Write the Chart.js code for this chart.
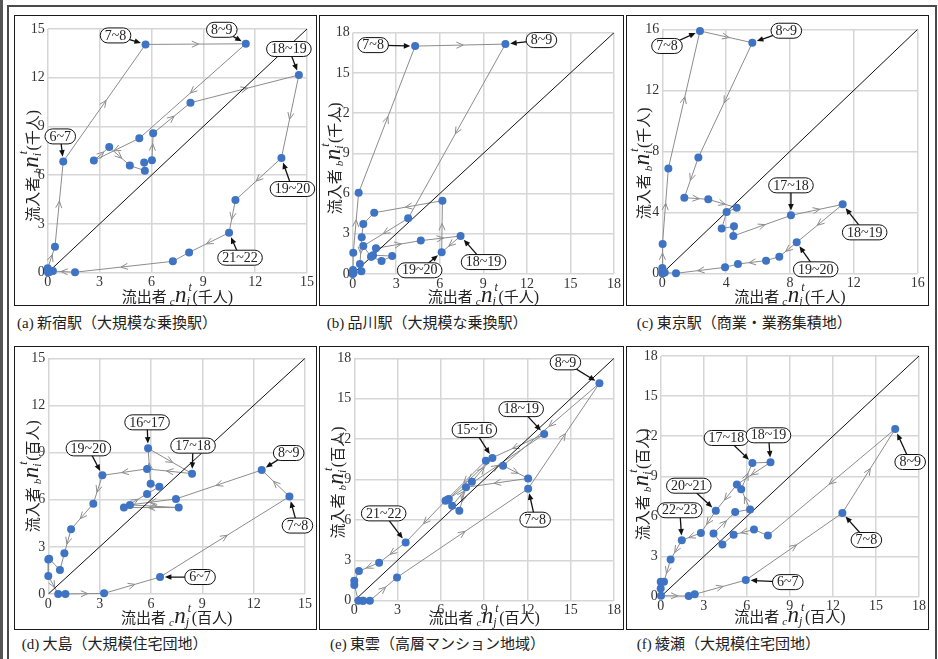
<!DOCTYPE html>
<html lang="ja">
  <head>
    <meta charset="UTF-8" />
    <meta name="viewport" content="width=device-width, initial-scale=1.0" />
    <title>流入者・流出者の時間帯別推移</title>
    <script src="https://cdn.jsdelivr.net/npm/chart.js"></script>
    <style>
      body {
        margin: 0;
        padding: 0;
        background: #fff;
        font-family: "Noto Sans CJK JP", sans-serif;
      }
      #page {
        position: relative;
        width: 938px;
        height: 659px;
        overflow: hidden;
      }
      .edge {
        position: absolute;
        left: 0;
        top: 0;
        width: 3px;
        height: 659px;
        background: #555;
      }
      .outer {
        position: absolute;
        left: 7px;
        top: 5px;
        width: 930px;
        height: 700px;
        border: 2px solid #4a4a4a;
        box-sizing: border-box;
      }
      .frame {
        position: absolute;
        border: 1.4px solid #1a1a1a;
        box-sizing: border-box;
      }
      canvas {
        position: absolute;
      }
      .caption {
        position: absolute;
        font-size: 15px;
        line-height: 18px;
        color: #222;
        white-space: nowrap;
      }
      .caption .tag {
        font-family: "Liberation Serif", serif;
      }
    </style>
  </head>
  <body>
    <div id="page">
      <div class="edge"></div>
      <div class="outer"></div>
    </div>

    <script>
      // hour slots (0~1 ... 23~24)
      const hours = ["0~1", "1~2", "2~3", "3~4", "4~5", "5~6", "6~7", "7~8", "8~9", "9~10", "10~11", "11~12",
        "12~13", "13~14", "14~15", "15~16", "16~17", "17~18", "18~19", "19~20", "20~21", "21~22", "22~23", "23~24"];

      const stationNames = ["新宿駅", "品川駅", "東京駅", "大島", "東雲", "綾瀬"];
      const areaKinds = ["大規模な乗換駅", "大規模な乗換駅", "商業・業務集積地", "大規模住宅団地", "高層マンション地域", "大規模住宅団地"];
      const units = ["千人", "千人", "千人", "百人", "百人", "百人"];
      const axisMax = [15, 18, 16, 15, 18, 18];
      const tickStep = [3, 3, 4, 3, 3, 3];

      // outflow (x) / inflow (y) per hour
      const shinjukuOut = [1.58, 0.3, 0.1, 0.02, 0, 0.42, 0.9, 5.66, 11.46, 5.3, 2.67, 3.56, 4.75, 5.62, 5.58, 6.03, 6.1, 8.26, 14.53, 13.52, 10.86, 10.49, 8.18, 7.24];
      const shinjukuIn = [0.03, 0.1, 0.05, 0.02, 0.27, 1.6, 6.85, 14.05, 14.09, 8.27, 6.9, 7.73, 6.6, 6.28, 6.79, 6.92, 8.58, 10.46, 12.17, 7.06, 4.47, 2.46, 1.25, 0.7];

      const shinagawaOut = [0.5, 0.6, 0.05, 0, 0.02, 0.04, 0.41, 4.3, 10.52, 3.82, 0.73, 1.26, 1.99, 2.72, 1.4, 1.3, 1.6, 4.69, 7.43, 6.13, 6.18, 1.48, 0.73, 0.62];
      const shinagawaIn = [0.75, 0.2, 0.08, 0, 0.3, 1.59, 6.06, 17.0, 17.15, 4.15, 2.09, 1.29, 0.97, 1.34, 1.4, 1.3, 1.92, 2.49, 2.83, 1.62, 5.47, 4.57, 3.73, 2.74];

      const tokyoOut = [0.86, 0.15, 0.05, 0, 0, 0.02, 0.38, 2.36, 5.64, 2.26, 1.38, 2.88, 4.66, 4.03, 3.72, 4.49, 4.45, 8.06, 11.3, 8.42, 7.33, 6.5, 4.74, 3.93];
      const tokyoIn = [0, 0.05, 0.02, 0, 0.35, 1.92, 6.88, 15.89, 15.12, 7.6, 4.96, 4.85, 4.3, 4.02, 2.93, 3.08, 2.45, 3.8, 4.52, 2.03, 1.09, 0.83, 0.61, 0.39];

      const oshimaOut = [0.05, 0, 0, 0.58, 1.0, 3.26, 6.53, 14.09, 12.47, 7.46, 4.77, 7.62, 4.42, 5.77, 6.49, 5.98, 5.83, 8.4, 5.77, 3.16, 2.63, 1.33, 0.94, 0.68];
      const oshimaIn = [2.25, 2.2, 1.15, 0, 0, 0.04, 1.08, 6.2, 7.89, 6.05, 5.67, 5.5, 5.5, 6.37, 6.83, 7.02, 9.27, 7.66, 7.96, 7.55, 5.75, 4.12, 2.59, 1.53];

      const shinonomeOut = [0, 0, 0.28, 0.58, 0.62, 1.08, 2.96, 12.05, 16.99, 10.31, 12.05, 7.74, 7.28, 6.78, 8.15, 9.57, 6.55, 6.45, 13.16, 9.12, 6.32, 3.56, 1.72, 0.32];
      const shinonomeIn = [1.48, 1.17, 0, 0, 0, 0, 1.73, 8.32, 16.14, 10.03, 9.08, 8.42, 6.68, 7.05, 8.84, 10.6, 7.55, 7.5, 12.37, 10.4, 7.42, 4.33, 2.82, 2.2];

      const ayaseOut = [0.23, 0, 0, 0.02, 1.95, 2.37, 5.93, 12.66, 16.34, 7.47, 6.5, 5.08, 4.3, 3.68, 5.19, 6.23, 5.61, 6.39, 7.65, 5.31, 3.84, 2.8, 1.47, 0.69];
      const ayaseIn = [1.12, 1.12, 0.62, 0.08, 0.05, 0.18, 1.24, 6.26, 12.54, 4.57, 5.02, 4.64, 3.9, 4.72, 6.33, 6.53, 8.04, 10.0, 10.05, 8.39, 6.43, 4.77, 4.22, 2.78];

      // hours that carry a callout label
      const labelledA = ["6~7", "7~8", "8~9", "18~19", "19~20", "21~22"];
      const labelledB = ["7~8", "8~9", "18~19", "19~20"];
      const labelledC = ["7~8", "8~9", "17~18", "18~19", "19~20"];
      const labelledD = ["6~7", "7~8", "8~9", "16~17", "17~18", "19~20"];
      const labelledE = ["7~8", "8~9", "15~16", "18~19", "21~22"];
      const labelledF = ["6~7", "7~8", "8~9", "17~18", "18~19", "20~21", "22~23"];

      // ---- layout (pixels) ----
      const CJK = '"Noto Sans CJK JP", sans-serif';
      const SERIF = '"Liberation Serif", "Times New Roman", serif';
      const LINE_GRAY = "#8c8c8c";
      const DOT_BLUE = "#3f73c4";

      const frames = [
        [14, 15, 303, 291], [318.5, 15, 305.5, 291], [625.5, 15, 303.5, 291],
        [14, 346, 303, 284], [318.5, 346, 305.5, 284], [625.5, 346, 303.5, 284],
      ];
      const plotBoxes = [
        [47.7, 29, 307.3, 272.7], [352.7, 32.7, 615, 274], [662.3, 29.3, 917.7, 273.3],
        [48.3, 358.3, 305, 594], [354.3, 358.3, 615.7, 600.7], [660.7, 355, 921.7, 596.7],
      ];
      const captionPos = [[17, 322], [326.7, 322], [636.7, 322], [21.7, 643], [330, 643], [636.7, 643]];
      const xTitleY = [296.5, 296.5, 296.5, 618, 617.5, 617];
      const yTitleX = [33, 335, 643.5, 33, 338, 643];
      const yTitleShift = [15, 5, 12, 0, 3, 8];

      const calloutOffsets = [
        [[-3, -25], [-30, -9], [-24, -14], [-10, -26], [11, 31], [11, 25]],
        [[-42, -1], [36, -4], [23, 26], [-22, 18]],
        [[-33, 15], [34, -12], [0, -30], [22, 28], [19, 27]],
        [[40, 0], [8, 29], [27, -17], [-1, -26], [1, -28], [-14, -27]],
        [[7, 31], [-34, -21], [-18, -28], [-23, -25], [-22, -29]],
        [[42, 2], [24, 27], [15, 33], [-26, -25], [-2, -27], [-27, -25], [-2, -30]],
      ];

      const panels = [
        { tag: "(a)", out: shinjukuOut, inn: shinjukuIn, labelled: labelledA },
        { tag: "(b)", out: shinagawaOut, inn: shinagawaIn, labelled: labelledB },
        { tag: "(c)", out: tokyoOut, inn: tokyoIn, labelled: labelledC },
        { tag: "(d)", out: oshimaOut, inn: oshimaIn, labelled: labelledD },
        { tag: "(e)", out: shinonomeOut, inn: shinonomeIn, labelled: labelledE },
        { tag: "(f)", out: ayaseOut, inn: ayaseIn, labelled: labelledF },
      ];

      // ---- rich text for axis titles ----
      function partWidth(ctx, p) {
        ctx.font = p.f;
        const w = p.sup
          ? Math.max(ctx.measureText(p.sup).width + 1.5, ctx.measureText(p.sub).width)
          : ctx.measureText(p.t).width;
        return w + (p.pad || 0);
      }

      function drawRich(ctx, parts, cx, cy, rotated) {
        ctx.save();
        ctx.translate(cx, cy);
        if (rotated) ctx.rotate(-Math.PI / 2);
        let total = 0;
        parts.forEach((p) => (total += partWidth(ctx, p)));
        let x = -total / 2;
        ctx.textAlign = "left";
        ctx.textBaseline = "alphabetic";
        ctx.fillStyle = "#222";
        parts.forEach((p) => {
          ctx.font = p.f;
          if (p.sup) {
            ctx.fillText(p.sup, x + 2, 5 + p.supDy);
            ctx.fillText(p.sub, x, 5 + p.subDy);
          } else {
            ctx.fillText(p.t, x, 5 + (p.dy || 0));
          }
          x += partWidth(ctx, p);
        });
        ctx.restore();
      }

      function titleParts(word, pre, sub, unit) {
        return [
          { t: word, f: "15px " + CJK, pad: 3 },
          { t: pre, f: "italic 11px " + SERIF, dy: 3, pad: 0.5 },
          { t: "n", f: "italic 23px " + SERIF },
          { sup: "t", sub: sub, f: "italic 12px " + SERIF, supDy: -11, subDy: 3, pad: 1 },
          { t: "(", f: "16px " + SERIF },
          { t: unit, f: "15px " + CJK },
          { t: ")", f: "16px " + SERIF },
        ];
      }

      function drawFlowArrows(chart) {
        const pts = chart.getDatasetMeta(0).data;
        const ctx = chart.ctx;
        ctx.save();
        ctx.strokeStyle = LINE_GRAY;
        ctx.lineWidth = 1;
        for (let i = 0; i < pts.length - 1; i++) {
          const a = pts[i], b = pts[i + 1];
          const dx = b.x - a.x, dy = b.y - a.y;
          if (Math.hypot(dx, dy) < 20) continue;
          const ang = Math.atan2(dy, dx);
          const tx = (a.x + b.x) / 2 + 3 * Math.cos(ang);
          const ty = (a.y + b.y) / 2 + 3 * Math.sin(ang);
          ctx.beginPath();
          ctx.moveTo(tx - 7.5 * Math.cos(ang - 0.42), ty - 7.5 * Math.sin(ang - 0.42));
          ctx.lineTo(tx, ty);
          ctx.lineTo(tx - 7.5 * Math.cos(ang + 0.42), ty - 7.5 * Math.sin(ang + 0.42));
          ctx.stroke();
        }
        ctx.restore();
      }

      function drawCallouts(chart, panel, offsets) {
        const dots = chart.getDatasetMeta(2).data;
        const ctx = chart.ctx;
        ctx.save();
        ctx.font = "14px " + SERIF;
        panel.labelled.forEach((h, k) => {
          const p = dots[hours.indexOf(h)];
          const bx = p.x + offsets[k][0];
          const by = p.y + offsets[k][1];
          const w = ctx.measureText(h).width + 9;
          const bh = 15;
          // leader arrow
          const dx = p.x - bx, dy = p.y - by;
          const len = Math.hypot(dx, dy);
          const ux = dx / len, uy = dy / len;
          const ex = p.x - ux * 4.8, ey = p.y - uy * 4.8;
          ctx.strokeStyle = "#111";
          ctx.fillStyle = "#111";
          ctx.lineWidth = 1.3;
          ctx.beginPath();
          ctx.moveTo(bx, by);
          ctx.lineTo(ex - ux * 4, ey - uy * 4);
          ctx.stroke();
          ctx.beginPath();
          ctx.moveTo(ex, ey);
          ctx.lineTo(ex - ux * 6.5 - uy * 2.8, ey - uy * 6.5 + ux * 2.8);
          ctx.lineTo(ex - ux * 6.5 + uy * 2.8, ey - uy * 6.5 - ux * 2.8);
          ctx.closePath();
          ctx.fill();
          // capsule box
          const r = bh / 2;
          ctx.beginPath();
          ctx.moveTo(bx - w / 2 + r, by - r);
          ctx.lineTo(bx + w / 2 - r, by - r);
          ctx.arc(bx + w / 2 - r, by, r, -Math.PI / 2, Math.PI / 2);
          ctx.lineTo(bx - w / 2 + r, by + r);
          ctx.arc(bx - w / 2 + r, by, r, Math.PI / 2, Math.PI * 1.5);
          ctx.closePath();
          ctx.fillStyle = "#fff";
          ctx.fill();
          ctx.lineWidth = 1;
          ctx.stroke();
          ctx.fillStyle = "#222";
          ctx.textAlign = "center";
          ctx.textBaseline = "middle";
          ctx.fillText(h, bx, by + 0.5);
        });
        ctx.restore();
      }

      const page = document.getElementById("page");

      panels.forEach((panel, i) => {
        const [fx, fy, fw, fh] = frames[i];
        const frame = document.createElement("div");
        frame.className = "frame";
        frame.style.left = fx + "px";
        frame.style.top = fy + "px";
        frame.style.width = fw + "px";
        frame.style.height = fh + "px";
        page.appendChild(frame);

        const cx = Math.floor(fx), cy = fy;
        const cw = Math.ceil(fx + fw) - cx, ch = fh;
        const canvas = document.createElement("canvas");
        canvas.width = cw;
        canvas.height = ch;
        canvas.style.left = cx + "px";
        canvas.style.top = cy + "px";
        page.appendChild(canvas);

        const cap = document.createElement("div");
        cap.className = "caption";
        cap.style.left = captionPos[i][0] + "px";
        cap.style.top = captionPos[i][1] - 9 + "px";
        cap.innerHTML = '<span class="tag">' + panel.tag + "</span> " + stationNames[i] + "（" + areaKinds[i] + "）";
        page.appendChild(cap);

        const [pl, pt, pr, pb] = plotBoxes[i];
        const padLeft = pl - cx, padTop = pt - cy;
        const padRight = cx + cw - pr, padBottom = cy + ch - pb;
        const max = axisMax[i];

        const pts = panel.out.map((v, k) => ({ x: v, y: panel.inn[k] }));
        const loop = pts.concat([pts[0]]);

        const tickFont = { family: SERIF, size: 14, lineHeight: 1 };
        const gridOpts = { color: "#d6d6d6", lineWidth: 1.5, drawTicks: false };

        const decor = {
          id: "decor" + i,
          afterDatasetDraw(chart, args) {
            if (args.index === 0) drawFlowArrows(chart);
          },
          afterDraw(chart) {
            drawCallouts(chart, panel, calloutOffsets[i]);
            const a = chart.chartArea;
            drawRich(chart.ctx, titleParts("流出者", "c", "j", units[i]), (a.left + a.right) / 2, xTitleY[i] - cy, false);
            drawRich(chart.ctx, titleParts("流入者", "b", "i", units[i]), yTitleX[i] - cx, (a.top + a.bottom) / 2 + yTitleShift[i], true);
          },
        };

        new Chart(canvas, {
          type: "scatter",
          data: {
            datasets: [
              { data: loop, showLine: true, borderColor: LINE_GRAY, borderWidth: 1, pointRadius: 0, order: 2, clip: false },
              { data: [{ x: 0, y: 0 }, { x: max, y: max }], showLine: true, borderColor: "#111", borderWidth: 1, pointRadius: 0, order: 1 },
              { data: pts, showLine: false, pointRadius: 4, pointBackgroundColor: DOT_BLUE, pointBorderWidth: 0, order: 0, clip: false },
            ],
          },
          options: {
            responsive: false,
            animation: false,
            events: [],
            layout: { padding: { top: padTop, right: padRight, left: 0, bottom: 0 } },
            plugins: { legend: { display: false }, tooltip: { enabled: false } },
            scales: {
              x: {
                type: "linear",
                min: 0,
                max: max,
                ticks: { stepSize: tickStep[i], font: tickFont, color: "#333", padding: 3, maxRotation: 0 },
                grid: gridOpts,
                border: { display: false },
                afterFit: (s) => { s.height = padBottom; },
              },
              y: {
                type: "linear",
                min: 0,
                max: max,
                ticks: { stepSize: tickStep[i], font: tickFont, color: "#333", padding: 3 },
                grid: gridOpts,
                border: { display: false },
                afterFit: (s) => { s.width = padLeft; },
              },
            },
          },
          plugins: [decor],
        });
      });
    </script>
  </body>
</html>
